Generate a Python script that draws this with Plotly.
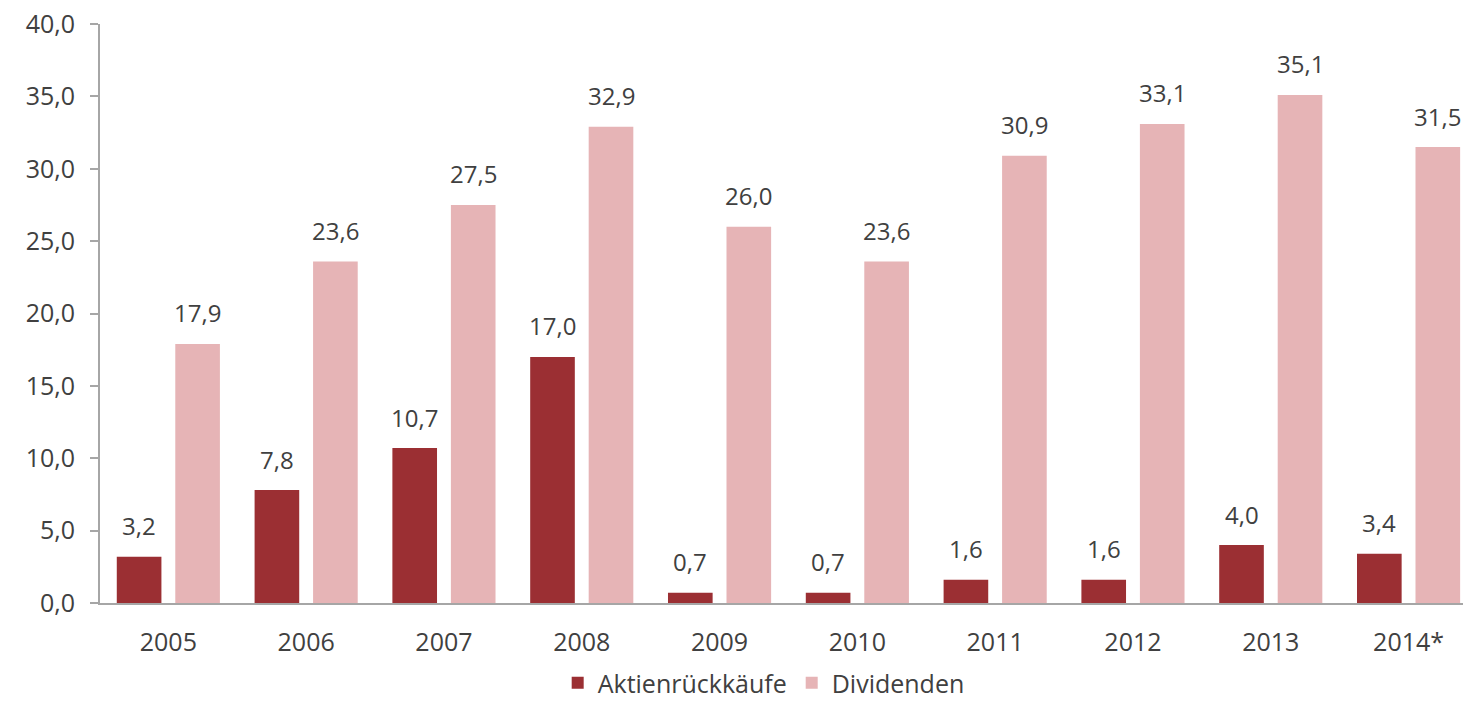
import plotly.graph_objects as go

years = ["2005", "2006", "2007", "2008", "2009", "2010", "2011", "2012", "2013", "2014*"]
aktien = [3.2, 7.8, 10.7, 17.0, 0.7, 0.7, 1.6, 1.6, 4.0, 3.4]
dividenden = [17.9, 23.6, 27.5, 32.9, 26.0, 23.6, 30.9, 33.1, 35.1, 31.5]
y_ticks = [0, 5, 10, 15, 20, 25, 30, 35, 40]

FONT = "Open Sans"
TXT = "#404040"
FS = 25
BARGAP = 0.151
GROUPGAP = 0.237
X_RANGE = [-0.496, 9.395]

fig = go.Figure()
fig.add_trace(go.Bar(
    x=years, y=aktien, name="Aktienrückkäufe",
    marker=dict(color="#9B2F33", line=dict(width=0)),
))
fig.add_trace(go.Bar(
    x=years, y=dividenden, name="Dividenden",
    marker=dict(color="#E6B4B6", line=dict(width=0)),
))

# value labels placed above each bar (offset to each bar's slot centre)
plot_w = 1463 - 100
cat_px = plot_w / (X_RANGE[1] - X_RANGE[0])
slot_px = cat_px * (1 - BARGAP) / 2
annotations = []
for i, yr in enumerate(years):
    for vals, sgn in ((aktien, -1), (dividenden, 1)):
        v = vals[i]
        annotations.append(dict(
            x=i, y=v, xref="x", yref="y",
            text=f"{v:.1f}".replace(".", ","),
            showarrow=False, xshift=sgn * slot_px / 2, yshift=31,
            yanchor="middle", xanchor="center",
            font=dict(family=FONT, size=24, color=TXT),
        ))

fig.update_layout(
    width=1463, height=706,
    margin=dict(l=100, r=0, t=24, b=103, autoexpand=False),
    paper_bgcolor="white", plot_bgcolor="white",
    barmode="group", bargap=BARGAP, bargroupgap=GROUPGAP,
    separators=",.",
    font=dict(family=FONT, size=FS, color=TXT),
    showlegend=True,
    legend=dict(orientation="h", xref="container", yref="container",
                x=0.522, xanchor="center", y=0.0, yanchor="bottom",
                font=dict(family=FONT, size=FS, color=TXT),
                itemwidth=30, traceorder="normal"),
    annotations=annotations,
)
fig.update_yaxes(
    range=[0, 40], tickvals=y_ticks, tickformat=".1f",
    showgrid=False, zeroline=False,
    showline=True, linecolor="#A6A6A6", linewidth=2,
    ticks="outside", ticklen=8, tickcolor="#A6A6A6", tickwidth=2,
    tickfont=dict(family=FONT, size=FS, color=TXT), ticklabelstandoff=10,
)
fig.update_xaxes(
    range=X_RANGE, type="category",
    showgrid=False, showline=True, linecolor="#A6A6A6", linewidth=2,
    ticks="", tickfont=dict(family=FONT, size=FS, color=TXT),
    ticklabelstandoff=16,
)

fig.write_html("out.html")
